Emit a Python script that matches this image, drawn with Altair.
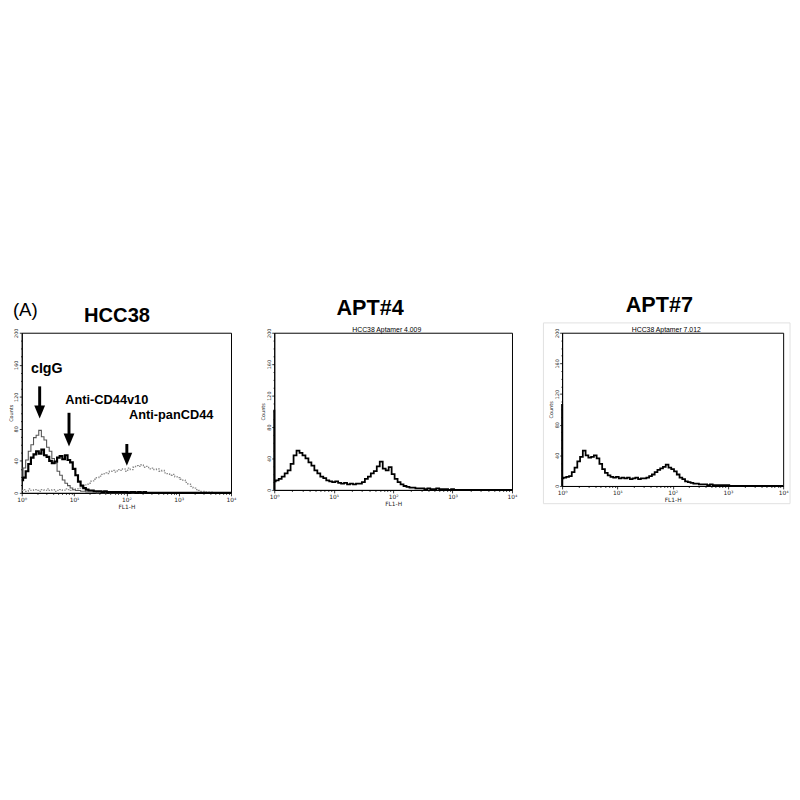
import altair as alt
import pandas as pd

FONT = "Liberation Sans"
TICK_FONT = "DejaVu Sans"

# histogram channels, in decades of FL1-H (10^0 ... 10^4)
DECADE = [
    0.00, 0.05, 0.10, 0.15, 0.20, 0.25, 0.30, 0.35, 0.40, 0.45,
    0.50, 0.55, 0.60, 0.65, 0.70, 0.75, 0.80, 0.85, 0.90, 0.95,
    1.00, 1.05, 1.10, 1.15, 1.20, 1.25, 1.30, 1.35, 1.40, 1.45,
    1.50, 1.55, 1.60, 1.65, 1.70, 1.75, 1.80, 1.85, 1.90, 1.95,
    2.00, 2.05, 2.10, 2.15, 2.20, 2.25, 2.30, 2.35, 2.40, 2.45,
    2.50, 2.55, 2.60, 2.65, 2.70, 2.75, 2.80, 2.85, 2.90, 2.95,
    3.00, 3.05, 3.10, 3.15, 3.20, 3.25, 3.30, 3.35, 3.40, 3.45,
    3.50, 3.55, 3.60, 3.65, 3.70, 3.75, 3.80, 3.85, 3.90, 3.95,
    4.00,
]

# HCC38 panel: control IgG, anti-CD44v10, anti-panCD44
CIGG = [
    20, 31, 41, 52, 60, 69, 72, 78, 70, 66,
    57, 52, 43, 37, 27, 22, 16, 12, 9, 6,
    4, 3, 3, 2, 2, 1, 1, 1, 1, 0,
    1, 0, 0, 1, 0, 0, 0, 0, 0, 0,
    0, 0, 0, 0, 0, 0, 0, 0, 0, 0,
    0, 0, 0, 0, 0, 0, 0, 0, 0, 0,
    0, 0, 0, 0, 0, 0, 0, 0, 0, 0,
    0, 0, 0, 0, 0, 0, 0, 0, 0, 0,
    0,
]
CD44V10 = [
    16, 19, 27, 36, 44, 48, 52, 49, 54, 47,
    45, 40, 37, 39, 44, 46, 42, 47, 41, 38,
    30, 22, 14, 9, 6, 4, 3, 3, 2, 2,
    2, 1, 2, 1, 1, 1, 1, 1, 1, 1,
    1, 0, 1, 1, 0, 1, 0, 1, 0, 0,
    0, 0, 0, 0, 0, 0, 0, 0, 0, 0,
    0, 0, 0, 0, 0, 0, 0, 0, 0, 0,
    0, 0, 0, 0, 0, 0, 0, 0, 0, 0,
    0,
]
PANCD44 = [
    3, 4, 2, 5, 3, 4, 3, 2, 4, 3,
    5, 3, 4, 2, 3, 4, 3, 5, 4, 3,
    4, 5, 6, 7, 9, 11, 12, 15, 17, 19,
    21, 23, 25, 24, 27, 28, 26, 29, 28, 30,
    27, 31, 29, 32, 34, 33, 35, 32, 33, 30,
    31, 29, 30, 27, 28, 25, 24, 22, 23, 20,
    19, 17, 16, 13, 11, 8, 6, 4, 3, 2,
    2, 1, 1, 1, 0, 0, 0, 0, 0, 0,
    0,
]

# aptamer panels
APT4 = [
    11, 12, 14, 17, 21, 25, 33, 44, 50, 47,
    44, 40, 35, 31, 25, 21, 17, 15, 12, 11,
    10, 11, 9, 8, 9, 7, 8, 7, 8, 8,
    10, 14, 17, 21, 24, 30, 36, 27, 25, 29,
    20, 14, 10, 7, 5, 4, 3, 3, 2, 2,
    2, 1, 2, 1, 1, 2, 1, 1, 1, 0,
    1, 0, 0, 0, 0, 0, 0, 0, 0, 0,
    0, 0, 0, 0, 0, 0, 0, 0, 0, 0,
    0,
]
APT7 = [
    10, 11, 12, 13, 18, 24, 32, 38, 46, 40,
    37, 38, 40, 36, 29, 22, 17, 14, 12, 11,
    12, 10, 11, 10, 11, 9, 10, 11, 9, 10,
    10, 11, 13, 15, 18, 21, 23, 25, 28, 24,
    22, 19, 15, 11, 9, 6, 5, 4, 3, 3,
    2, 2, 2, 1, 2, 1, 1, 1, 1, 1,
    1, 0, 0, 0, 0, 0, 0, 0, 0, 0,
    0, 0, 0, 0, 0, 0, 0, 0, 0, 0,
    0,
]
# events piled up in the first channel
APT4_EDGE = 102
APT7_EDGE = 107

# arrow annotations of the HCC38 panel
ARROW_LABELS = ["cIgG", "Anti-CD44v10", "Anti-panCD44"]
LABEL_FL = [1.5, 6.8, 112]
LABEL_COUNT = [150, 111, 92]
ARROW_FL = [2.2, 8.0, 102]
ARROW_FROM = [133, 100, 61]
ARROW_TO = [93, 58, 34]

X_TICKS = [m * 10 ** d for d in range(4) for m in range(1, 10)] + [10000]
Y_TICKS = list(range(0, 201, 10))
DECADE_TEST = "indexof([1, 10, 100, 1000, 10000], datum.value) >= 0"
ONE = pd.DataFrame({"a": [0]})


def hist(counts):
    return pd.DataFrame({"fl": [10 ** d for d in DECADE], "count": counts})


def x_enc(field="fl"):
    return alt.X(
        f"{field}:Q", title="FL1-H",
        scale=alt.Scale(type="log", domain=[1, 10000], nice=False),
        axis=alt.Axis(
            values=X_TICKS,
            labelExpr=DECADE_TEST + " ? '10' + ['⁰','¹','²','³','⁴'][round(log(datum.value) / LN10)] : ''",
            tickSize={"condition": {"test": DECADE_TEST, "value": 3}, "value": 1.5},
            labelFlush=False, labelOverlap=False, labelPadding=1, titlePadding=1,
            labelFontSize=6, titleFontSize=6,
        ),
    )


def y_enc(field="count"):
    return alt.Y(
        f"{field}:Q", title="Counts",
        scale=alt.Scale(domain=[0, 200], nice=False),
        axis=alt.Axis(
            values=Y_TICKS,
            labelExpr="datum.value % 40 == 0 ? datum.label : ''",
            tickSize={"condition": {"test": "datum.value % 40 == 0", "value": 2.5}, "value": 1.2},
            labelAngle=270, labelAlign="center", labelBaseline="bottom",
            labelFlush=False, labelOverlap=False, labelPadding=0.5, titlePadding=0.5,
            labelFontSize=5, titleFontSize=5,
        ),
    )


def hist_line(counts, color, width, dash=None):
    kw = dict(interpolate="step", color=color, strokeWidth=width)
    if dash:
        kw["strokeDash"] = dash
    return alt.Chart(hist(counts)).mark_line(**kw).encode(x=x_enc(), y=y_enc())


def edge_spike(count):
    df = pd.DataFrame({"fl": [1], "count": [count]})
    return alt.Chart(df).mark_rule(color="black", strokeWidth=2).encode(
        x=x_enc(), y=y_enc(), y2=alt.datum(0)
    )


def text(label, x, y, size, weight="bold", align="center"):
    return alt.Chart(ONE).mark_text(
        text=label, font=FONT, fontSize=size, fontWeight=weight,
        align=align, baseline="alphabetic", color="black",
    ).encode(x=alt.value(x), y=alt.value(y))


def anchor(left, right, top):
    # invisible rule that fixes the panel's outer box in the row
    return alt.Chart(ONE).mark_rule(strokeOpacity=0).encode(
        x=alt.value(left), x2=alt.value(right), y=alt.value(top)
    )


# --- HCC38 ---
labels_df = pd.DataFrame({"label": ARROW_LABELS, "fl": LABEL_FL, "count": LABEL_COUNT})
arrows_df = pd.DataFrame({"label": ARROW_LABELS, "fl": ARROW_FL, "count": ARROW_FROM, "tip": ARROW_TO})

shafts = alt.Chart(arrows_df).mark_rule(color="black", strokeWidth=3, y2Offset=-6).encode(
    x=x_enc(), y=y_enc(), y2="tip:Q"
)
heads = alt.Chart(arrows_df).mark_point(
    shape="M-1,-1.2L1,-1.2L0,1.2Z", filled=True, size=121, color="black",
    opacity=1, strokeWidth=0, yOffset=-6.6,
).encode(x=x_enc(), y=y_enc("tip"))
label_big = alt.Chart(labels_df).transform_filter(alt.datum.label == "cIgG").mark_text(
    font=FONT, fontSize=14.5, fontWeight="bold", align="left", baseline="alphabetic", color="black"
).encode(x=x_enc(), y=y_enc(), text="label:N")
label_small = alt.Chart(labels_df).transform_filter(alt.datum.label != "cIgG").mark_text(
    font=FONT, fontSize=13, fontWeight="bold", align="left", baseline="alphabetic", color="black"
).encode(x=x_enc(), y=y_enc(), text="label:N")

p1 = alt.layer(
    anchor(-13, 227, -317),
    hist_line(PANCD44, "#8a8a8a", 1.3, [1.5, 1.5]),
    hist_line(CIGG, "#555555", 1.1),
    hist_line(CD44V10, "black", 2.2),
    shafts, heads, label_big, label_small,
    text("(A)", -9, -17, 19, weight="normal", align="left"),
    text("HCC38", 97, -11, 20.5),
).properties(width=213, height=163)

# --- APT#4 ---
p2 = alt.layer(
    anchor(-28, 269, -317),
    hist_line(APT4, "black", 1.8),
    edge_spike(APT4_EDGE),
    text("APT#4", 97.5, -18, 22),
    text("HCC38 Aptamer 4.009", 114.5, -1, 7, weight="normal"),
).properties(width=242, height=160)

# --- APT#7 ---
border = alt.Chart(ONE).mark_rect(fillOpacity=0, stroke="#e0e0e0", strokeWidth=1).encode(
    x=alt.value(-19), x2=alt.value(232), y=alt.value(-10), y2=alt.value(174)
)
p3 = alt.layer(
    anchor(-22, 233, -325),
    border,
    hist_line(APT7, "black", 1.8),
    edge_spike(APT7_EDGE),
    text("APT#7", 99, -21, 22),
    text("HCC38 Aptamer 7.012", 106, -1, 7, weight="normal"),
).properties(width=225, height=156)

chart = alt.hconcat(p1, p2, p3, spacing=0).properties(
    padding=0, background="white"
).configure_view(
    stroke="black", strokeWidth=1
).configure_axis(
    grid=False, domainColor="black", domainWidth=1, tickColor="black", tickWidth=0.8,
    labelFont=TICK_FONT, labelColor="#222", titleFont=TICK_FONT, titleColor="#222",
    titleFontWeight="normal",
)

chart.save("out.html", embed_options={"renderer": "svg", "actions": False})
